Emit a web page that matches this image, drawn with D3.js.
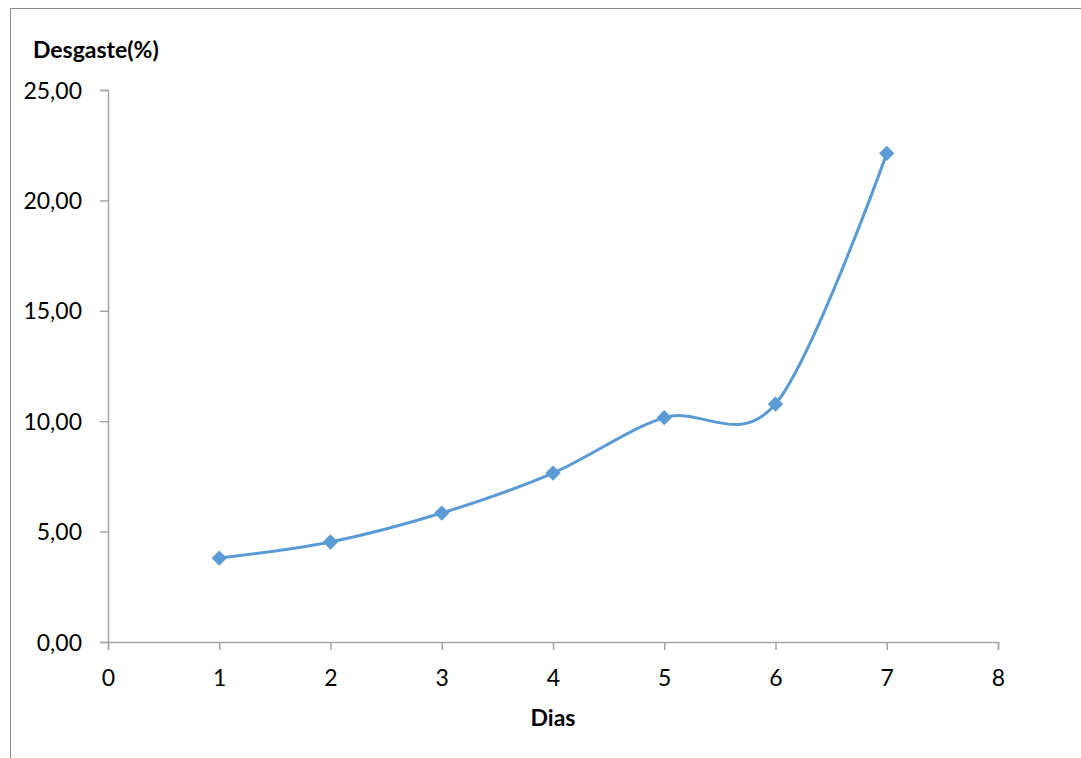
<!DOCTYPE html>
<html><head><meta charset="utf-8">
<script src="https://cdn.jsdelivr.net/npm/d3@7"></script>
<style>body{margin:0;background:#fff;} svg{display:block;}</style>
</head><body>
<svg id="c" width="1081" height="758"></svg>
<script>
const days = [1, 2, 3, 4, 5, 6, 7];
const wear = [3.80, 4.53, 5.84, 7.65, 10.16, 10.78, 22.13];
const xTicks = [0, 1, 2, 3, 4, 5, 6, 7, 8];
const yTicks = [0, 5, 10, 15, 20, 25];
const yTitle = "Desgaste(%)";
const xTitle = "Dias";

const svg = d3.select("#c");
const font = "Lato, 'Liberation Sans', sans-serif";
const x = d3.scaleLinear().domain([0, 8]).range([108, 998]);
const y = d3.scaleLinear().domain([0, 25]).range([642, 90]);

// outer border (top and left only visible)
svg.append("path").attr("d", "M10.5,758 V8.5 H1081").attr("fill", "none")
  .attr("stroke", "#8c8c8c").attr("stroke-width", 1);

const fmt = d => d.toFixed(2).replace(".", ",");

const yAxis = svg.append("g").attr("transform", "translate(108,0)")
  .call(d3.axisLeft(y).tickValues(yTicks).tickFormat(fmt).tickSize(8).tickPadding(18));
const xAxis = svg.append("g").attr("transform", "translate(0,642)")
  .call(d3.axisBottom(x).tickValues(xTicks).tickFormat(d3.format("d")).tickSize(8).tickPadding(20));
[yAxis, xAxis].forEach(a => {
  a.select(".domain").attr("stroke", "#a6a6a6").attr("stroke-width", 1.5);
  a.selectAll(".tick line").attr("stroke", "#a6a6a6").attr("stroke-width", 1.5);
  a.selectAll("text").attr("font-family", font).attr("font-size", 23).attr("fill", "#000");
});
yAxis.selectAll("text").attr("dy", "0.35em");

const pts = days.map((d, i) => [d, wear[i]]);
const line = d3.line().x(d => x(d[0])).y(d => y(d[1])).curve(d3.curveCardinal.tension(0));
svg.append("path").attr("d", line(pts)).attr("fill", "none")
  .attr("stroke", "#5b9bd5").attr("stroke-width", 3);

svg.selectAll(".m").data(pts).enter().append("path")
  .attr("transform", d => `translate(${x(d[0])},${y(d[1])})`)
  .attr("d", d3.symbol().type(d3.symbolDiamond2).size(150))
  .attr("fill", "#5b9bd5");

svg.append("text").attr("x", 33).attr("y", 58).text(yTitle)
  .attr("font-family", font).attr("font-weight", "bold").attr("font-size", 23).attr("fill", "#000");
svg.append("text").attr("x", 553).attr("y", 726).attr("text-anchor", "middle").text(xTitle)
  .attr("font-family", font).attr("font-weight", "bold").attr("font-size", 23).attr("fill", "#000");
</script>
</body></html>
